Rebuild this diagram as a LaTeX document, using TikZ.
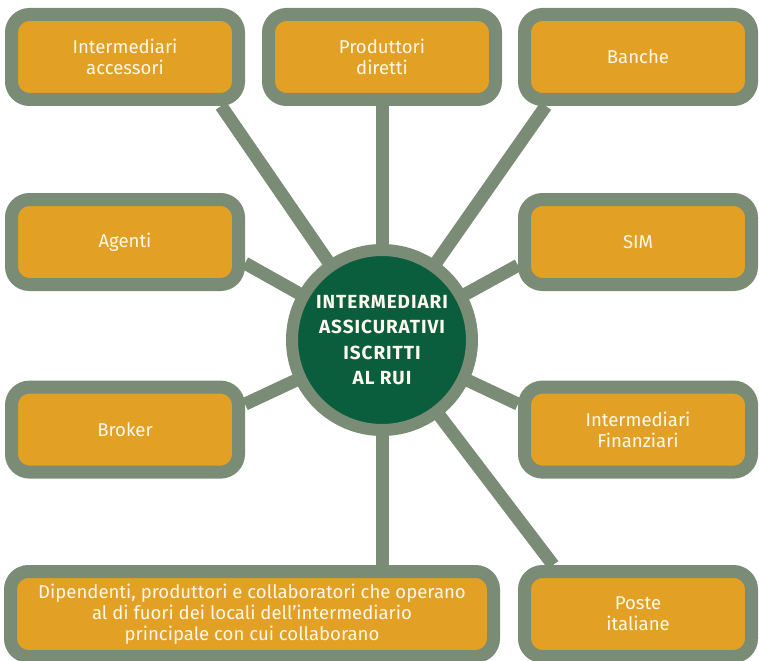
\documentclass[tikz,border=0pt]{standalone}
\usepackage{fontspec}
\setmainfont{Fira Sans}
\usetikzlibrary{backgrounds}

\definecolor{sage}{HTML}{7A8B76}
\definecolor{ochre}{HTML}{E2A024}
\definecolor{pine}{HTML}{0A5E3E}
\definecolor{cream}{HTML}{FFF8EC}

\begin{document}
\begin{tikzpicture}[
  box/.style={draw=sage, fill=ochre, line width=0.325cm, rounded corners=0.45cm,
    minimum width=5.675cm, minimum height=2.125cm, inner sep=0pt,
    text=cream, align=center, font=\fontsize{13.2}{14.8}\selectfont},
  hub/.style={circle, draw=sage, fill=pine, line width=0.3cm, minimum size=4.5cm,
    inner sep=0pt, text=cream, align=center,
    font=\fontsize{13.5}{18}\selectfont\bfseries\addfontfeature{LetterSpace=5}},
  spoke/.style={draw=sage, line width=0.325cm}
]
\useasboundingbox (0,0) rectangle (18.975,16.5);

% centre
\node[hub] (rui) at (9.55,8.0) {INTERMEDIARI\\ASSICURATIVI\\ISCRITTI\\AL RUI};

% top row
\node[box] (acc) at (3.125,15.075) {Intermediari\\accessori};
\node[box] (prod) at (9.55,15.075) {Produttori\\diretti};
\node[box] (banche) at (15.95,15.075) {Banche};

% middle rows
\node[box] (agenti) at (3.125,10.45) {Agenti};
\node[box] (sim) at (15.95,10.45) {SIM};
\node[box] (broker) at (3.125,5.76) {Broker};
\node[box] (fin) at (15.95,5.76) {Intermediari\\Finanziari};

% bottom row
\node[box, minimum width=12.075cm] (dip) at (6.3,1.15)
  {Dipendenti, produttori e collaboratori che operano\\al di fuori dei locali dell'intermediario\\principale con cui collaborano};
\node[box] (poste) at (15.95,1.15) {Poste\\italiane};

% spokes behind everything
\begin{pgfonlayer}{background}
\draw[spoke] (rui.center) -- (acc.-27);
\draw[spoke] (rui.center) -- (prod.south);
\draw[spoke] (rui.center) -- (banche.-152);
\draw[spoke] (rui.center) -- (agenti.-10);
\draw[spoke] (rui.center) -- (sim.-169);
\draw[spoke] (rui.center) -- (broker.12);
\draw[spoke] (rui.center) -- (fin.168);
\draw[spoke] (rui.center) -- (poste.150);
\draw[spoke] (rui.center) -- (rui.center |- dip.north);
\end{pgfonlayer}

\end{tikzpicture}
\end{document}
